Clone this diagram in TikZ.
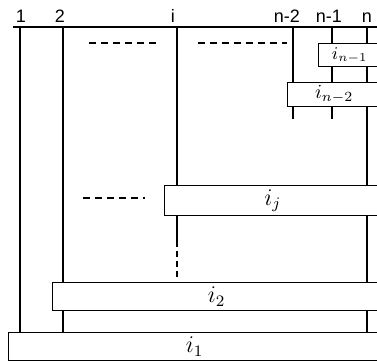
\documentclass[tikz,border=0pt]{standalone}
\usepackage{fontspec}
\setsansfont{Liberation Sans}

\begin{document}
\begin{tikzpicture}[
            x=0.5pt, y=-0.5pt,
            wire/.style={line width=0.7pt},
            gap/.style={line width=0.6pt, dash pattern=on 3.5pt off 2.5pt},
            gate/.style={rectangle, draw, line width=0.7pt, fill=white, inner sep=0pt,
                         anchor=north west, font=\large},
            lab/.style={font=\sffamily\fontsize{9}{11}\selectfont, anchor=base, inner sep=0pt}
        ]
            \useasboundingbox (0,0) rectangle (377,361);
            \clip (0,0) rectangle (377,361);

            % wire labels
            \node[lab] (l1) at (21,22) {1};
            \node[lab] (l2) at (60,22) {2};
            \node[lab] (li) at (173,22) {i};
            \node[lab] (ln2) at (287,22) {n-2};
            \node[lab] (ln1) at (329,22) {n-1};
            \node[lab] (ln) at (367,22) {n};
            \draw[wire] (13,27) -- (380,27);

            % gates
            \node[gate, minimum width=31pt, minimum height=11.5pt, font=\small] (bn1) at (318,43) {$i_{n-1}$};
            \node[gate, minimum width=46.5pt, minimum height=12pt, font=\normalsize] (bn2) at (287,82) {$i_{n-2}$};
            \node[gate, minimum width=108pt, minimum height=15pt] (bj) at (164,185) {$i_j$};
            \node[gate, minimum width=164pt, minimum height=14pt] (b2) at (52,282) {$i_2$};
            \node[gate, minimum width=186pt, minimum height=14pt] (b1) at (8,332) {$i_1$};

            % wires
            \coordinate (w1) at (20,27);
            \coordinate (w2) at (63,27);
            \coordinate (wi) at (177,27);
            \coordinate (wn2) at (293,27);
            \coordinate (wn1) at (332,27);
            \coordinate (wn) at (367,27);
            \draw[wire] (w1) -- (w1 |- b1.north);
            \draw[wire] (w2) -- (w2 |- b2.north) (w2 |- b2.south) -- (w2 |- b1.north);
            \draw[wire] (wi) -- (wi |- bj.north) (wi |- bj.south) -- ++(0,25) coordinate (wimid);
            \draw[gap, dash pattern=on 3pt off 2pt, shorten >=2.5pt] (wimid) -- (wi |- b2.north);
            \draw[wire] (wn2) -- (wn2 |- bn2.north) (wn2 |- bn2.south) -- ++(0,12);
            \draw[wire] (wn1) -- (wn1 |- bn1.north) (wn1 |- bn1.south) -- (wn1 |- bn2.north)
                        (wn1 |- bn2.south) -- ++(0,12);
            \draw[wire] (wn) -- (wn |- bn1.north) (wn |- bn1.south) -- (wn |- bn2.north)
                        (wn |- bn2.south) -- (wn |- bj.north) (wn |- bj.south) -- (wn |- b2.north)
                        (wn |- b2.south) -- (wn |- b1.north);

            % omitted wires and gates
            \draw[gap] (89,43) -- (160,43);
            \draw[gap] (198,43) -- (287,43);
            \draw[gap] (83,198) -- (145,198);
        \end{tikzpicture}
\end{document}
